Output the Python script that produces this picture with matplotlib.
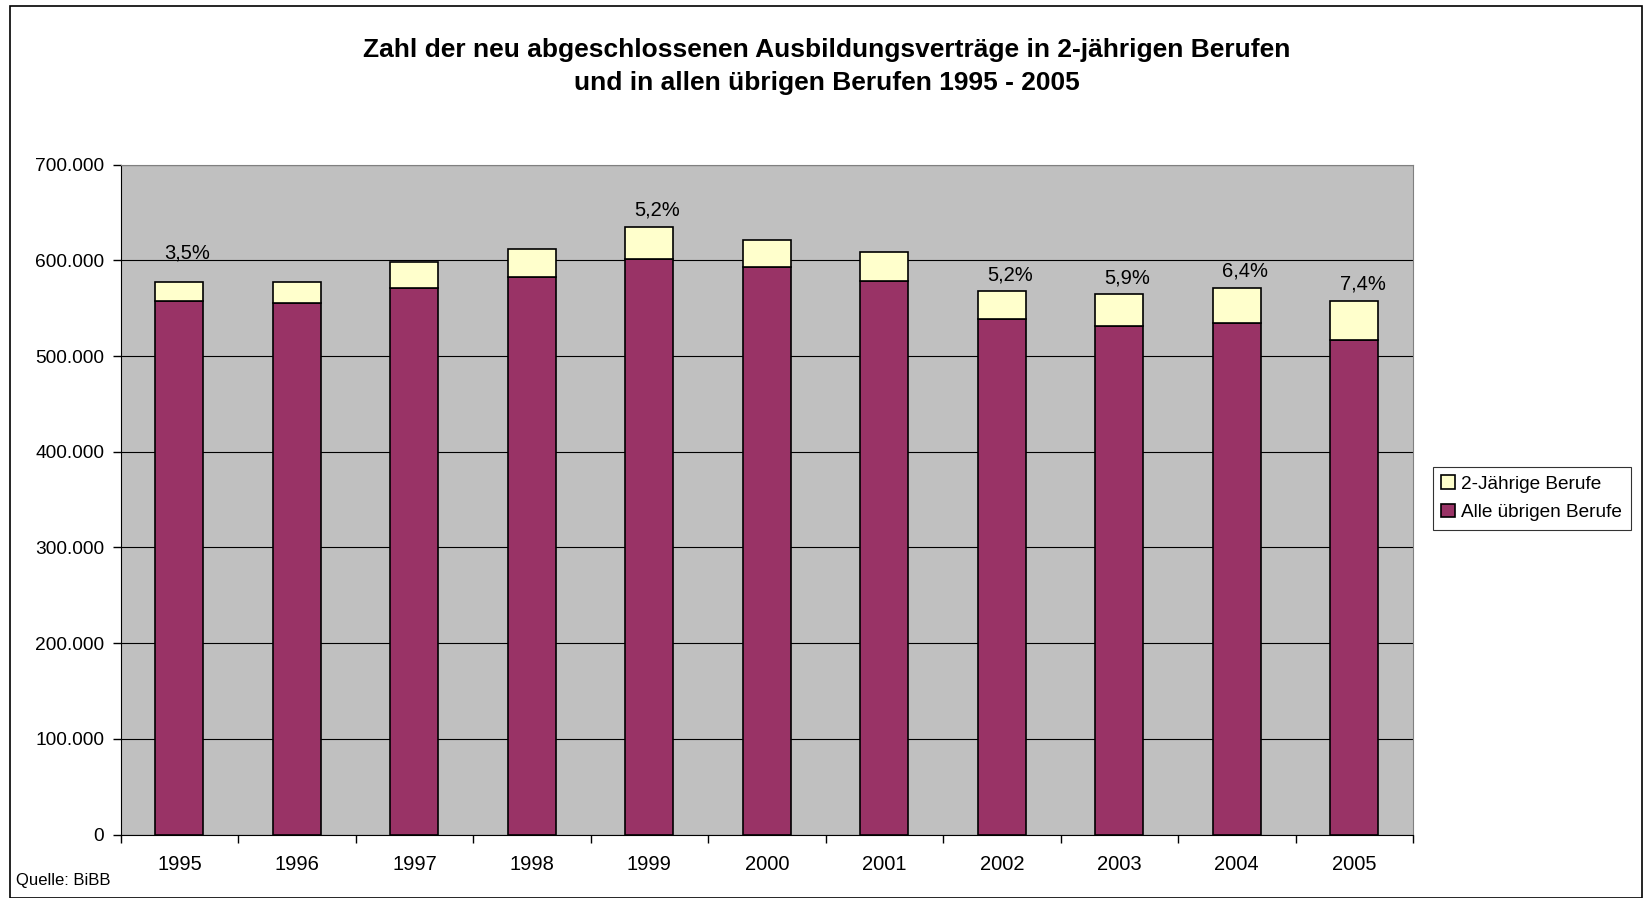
import matplotlib
matplotlib.use('Agg')
import matplotlib.pyplot as plt
from matplotlib.ticker import FuncFormatter, FixedLocator
from matplotlib.patches import Rectangle

plt.rcParams['font.family'] = ['Liberation Sans', 'DejaVu Sans']

years = ['1995', '1996', '1997', '1998', '1999', '2000', '2001', '2002', '2003', '2004', '2005']
other_jobs = [557500, 555800, 571300, 583000, 601700, 593000, 578000, 538500, 531000, 534800, 516400]
two_year_jobs = [20200, 22000, 26600, 28500, 33300, 28700, 30700, 29500, 33300, 36500, 41300]
share_labels = ['3,5%', '', '', '', '5,2%', '', '', '5,2%', '5,9%', '6,4%', '7,4%']

fig = plt.figure(figsize=(16.44, 8.98), dpi=100)
ax = fig.add_axes([0.0734, 0.0706, 0.7861, 0.7461])

x = list(range(len(years)))
w = 0.41
ax.bar(x, other_jobs, w, color='#993366', edgecolor='black', linewidth=1.2,
       label='Alle übrigen Berufe', zorder=3)
ax.bar(x, two_year_jobs, w, bottom=other_jobs, color='#FFFFCC', edgecolor='black',
       linewidth=1.2, label='2-Jährige Berufe', zorder=3)

# the 1995 label sits a bit higher in the original
for i in x:
    if share_labels[i]:
        top = other_jobs[i] + two_year_jobs[i]
        off = 14 if i == 0 else 5
        ax.annotate(share_labels[i], (i + 0.07, top), xytext=(0, off), textcoords='offset points',
                    ha='center', va='bottom', fontsize=14.5)

ax.set_facecolor('#C0C0C0')
ax.set_xlim(-0.5, len(years) - 0.5)
ax.set_ylim(0, 700000)
ax.set_yticks(range(0, 700001, 100000))
ax.yaxis.set_major_formatter(FuncFormatter(lambda v, p: f"{int(v):,}".replace(',', '.')))
ax.yaxis.grid(True, color='black', linewidth=0.8, zorder=0)
ax.set_axisbelow(True)

ax.set_xticks(x)
ax.set_xticklabels(years)
ax.xaxis.set_minor_locator(FixedLocator([i - 0.5 for i in range(len(years) + 1)]))
ax.tick_params(axis='x', which='major', length=0, pad=15, labelsize=14.5)
ax.tick_params(axis='x', which='minor', length=6, width=1, direction='out')
ax.tick_params(axis='y', length=6, width=1, direction='out', labelsize=13.8, pad=6)

ax.spines['left'].set_color('black')
ax.spines['bottom'].set_color('black')
ax.spines['top'].set_color('#808080')
ax.spines['right'].set_color('#808080')

fig.text(0.503, 0.926, 'Zahl der neu abgeschlossenen Ausbildungsverträge in 2-jährigen Berufen\n'
         'und in allen übrigen Berufen 1995 - 2005',
         ha='center', va='center', fontsize=19, fontweight='bold', linespacing=1.45)

fig.text(0.0095, 0.02, 'Quelle: BiBB', ha='left', va='center', fontsize=12)

handles, labels = ax.get_legend_handles_labels()
leg = fig.legend(handles[::-1], labels[::-1], loc='center left', bbox_to_anchor=(0.8715, 0.445),
                 fontsize=13.7, frameon=True, fancybox=False, edgecolor='black',
                 handlelength=0.7, handleheight=0.7, handletextpad=0.35, borderpad=0.45,
                 labelspacing=0.6, borderaxespad=0)
leg.get_frame().set_linewidth(0.8)

fig.patches.append(Rectangle((0.006, 0.0), 0.9925, 0.9935, transform=fig.transFigure,
                             fill=False, edgecolor='black', linewidth=1.2))

fig.savefig('out.png', dpi=100)
